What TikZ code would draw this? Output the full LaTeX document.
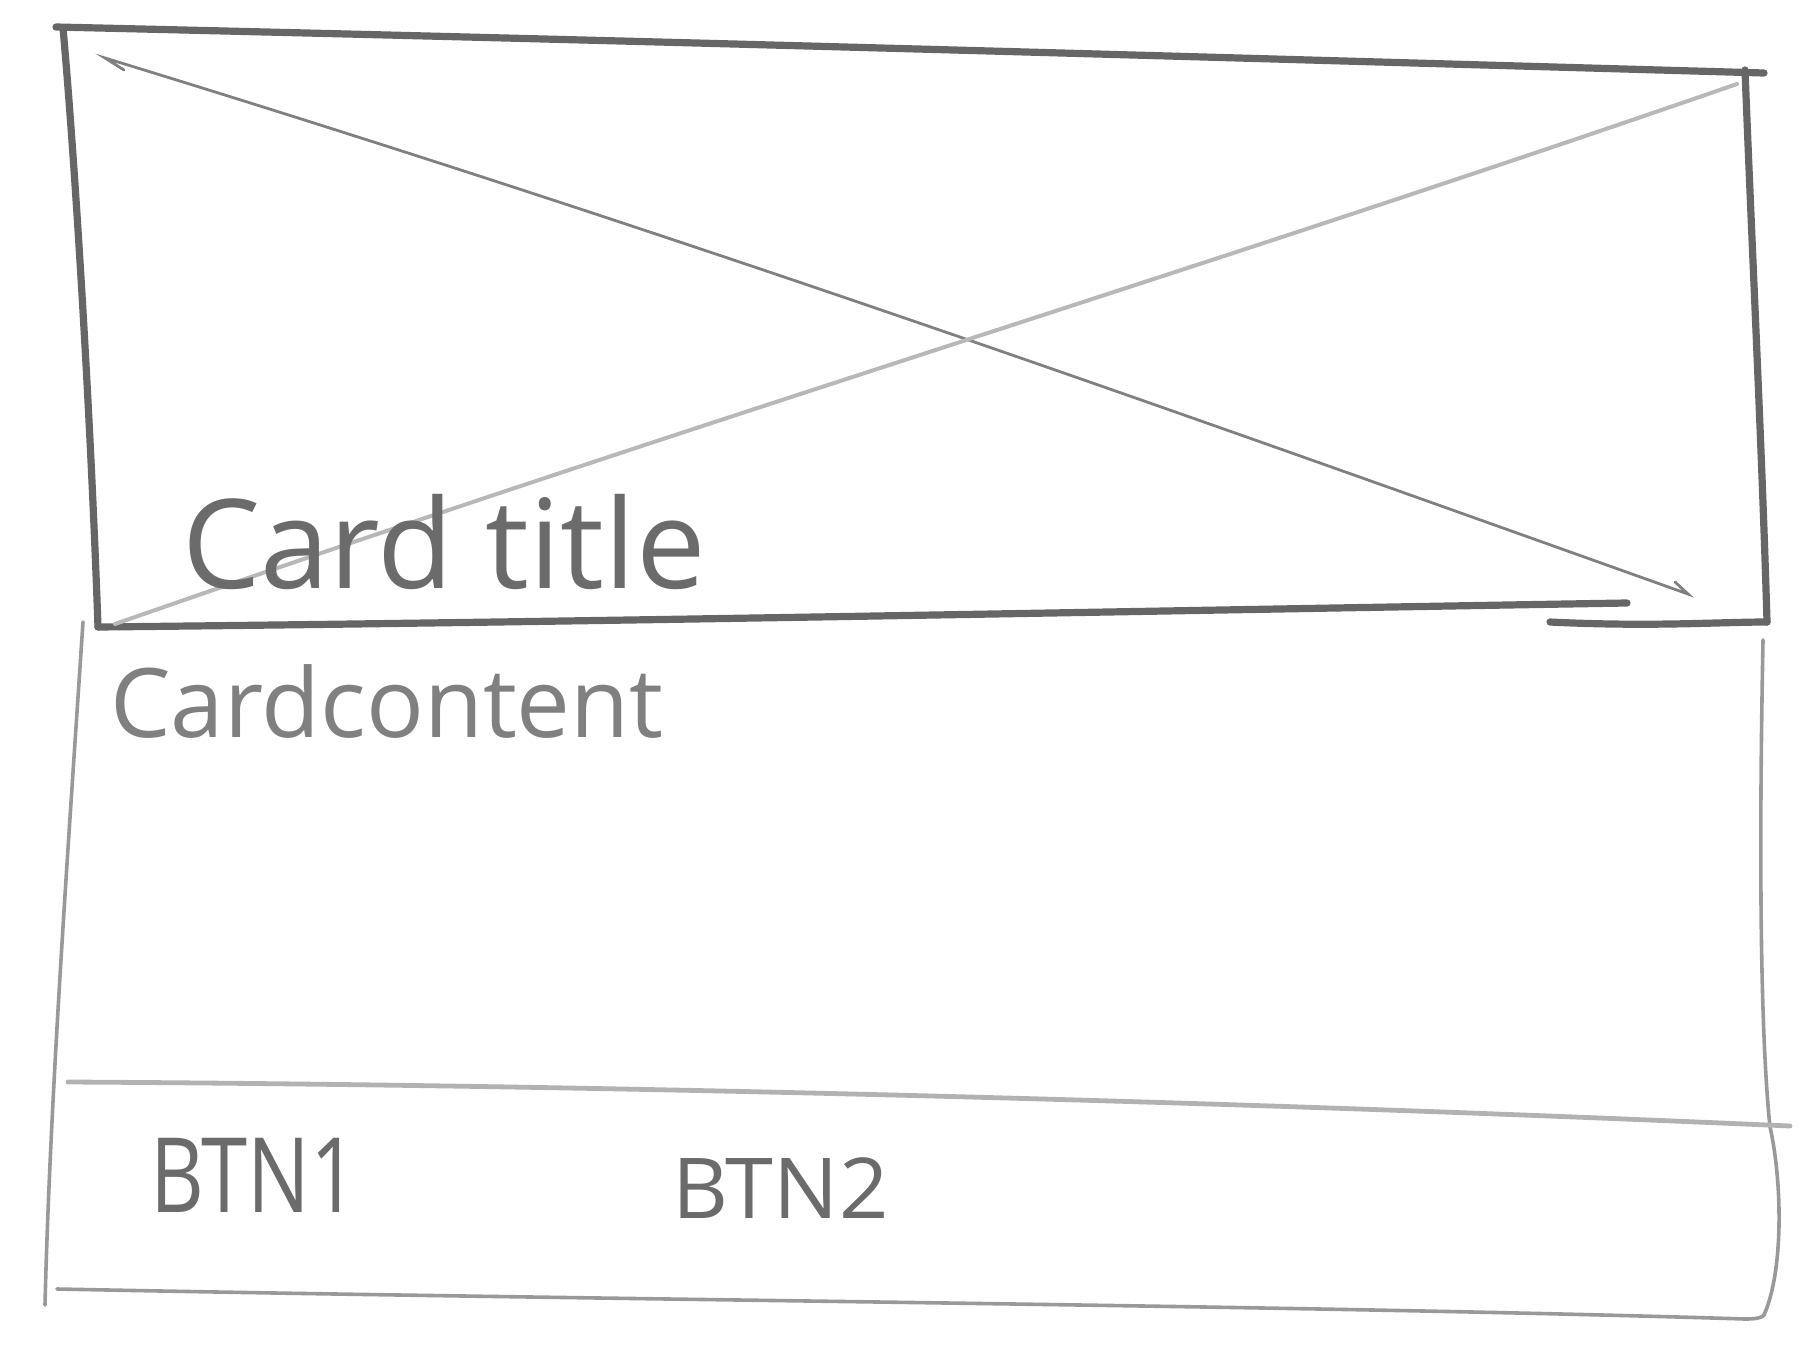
\documentclass[tikz,border=0pt]{standalone}
\usepackage{fontspec}
\setmainfont{Open Sans}
\definecolor{boxc}{gray}{0.40}
\definecolor{diagA}{gray}{0.50}
\definecolor{diagB}{gray}{0.72}
\definecolor{lowc}{gray}{0.60}
\definecolor{divc}{gray}{0.70}
\definecolor{textc}{gray}{0.42}
\definecolor{textd}{gray}{0.50}
\tikzset{
  boxline/.style={draw=boxc, line width=3.6pt, line cap=round, line join=round},
  diagline/.style={draw=diagA, line width=1.4pt, line cap=round},
  diaglight/.style={draw=diagB, line width=2pt, line cap=round},
  lowline/.style={draw=lowc, line width=1.8pt, line cap=round, line join=round},
  divline/.style={draw=divc, line width=2.4pt, line cap=round},
  sketchtext/.style={inner sep=0pt, anchor=base west, text=textc},
}
\begin{document}
\begin{tikzpicture}[x=0.5pt, y=-0.5pt]
\useasboundingbox (0,0) rectangle (1810,1359);
% corners of the image box
\coordinate (tl) at (63,28);
\coordinate (tr) at (1745,70);
\coordinate (br) at (1767,622);
\coordinate (bl) at (98,627);
% image box
\draw[boxline] (56,27) .. controls (700,42) and (1200,57) .. (1764,73);
\draw[boxline] (tl) .. controls (74,150) and (90,400) .. (bl);
\draw[boxline] (tr) .. controls (1752,250) and (1762,450) .. (br);
\draw[boxline] (bl) .. controls (600,622) and (1200,610) .. (1627,603);
\draw[boxline] (1550,622) .. controls (1650,627) and (1720,622) .. (br);
% crossing diagonals
\coordinate (d1s) at (105,58);
\coordinate (d1e) at (1688,594);
\draw[diagline] (124,70) -- (d1s) .. controls (700,240) and (1200,420) .. (d1e) -- (1675,582);
\coordinate (d2s) at (115,624);
\coordinate (d2e) at (1737,84);
\draw[diaglight] (d2s) .. controls (700,420) and (1200,270) .. (d2e);
% lower card body
\coordinate (ltop) at (83,622);
\coordinate (lbot) at (45,1305);
\coordinate (rtop) at (1763,640);
\coordinate (rbot) at (1764,1315);
\draw[lowline] (ltop) .. controls (68,850) and (50,1100) .. (lbot);
\draw[lowline] (57,1289) .. controls (600,1300) and (1300,1305) .. (1745,1319)
  .. controls (1755,1319) and (1762,1318) .. (rbot);
\draw[lowline] (rtop) .. controls (1758,900) and (1762,1050) .. (1770,1127)
  .. controls (1782,1180) and (1784,1270) .. (rbot);
% divider above buttons
\draw[divline] (68,1082) .. controls (600,1085) and (1200,1100) .. (1790,1126);
% texts
\node[sketchtext, font=\fontsize{62}{62}\selectfont] (title) at (182,588) {Card title};
\node[sketchtext, text=textd, font=\fontsize{48}{48}\selectfont] (content) at (110,737) {Cardcontent};
\node[sketchtext, font=\fontsize{52}{52}\selectfont] (btna) at (150,1212) {\scalebox{0.8}[1]{BTN1}};
\node[sketchtext, font=\fontsize{42}{42}\selectfont] (btnb) at (672,1218) {\scalebox{1.03}[1]{BTN2}};
\end{tikzpicture}
\end{document}
